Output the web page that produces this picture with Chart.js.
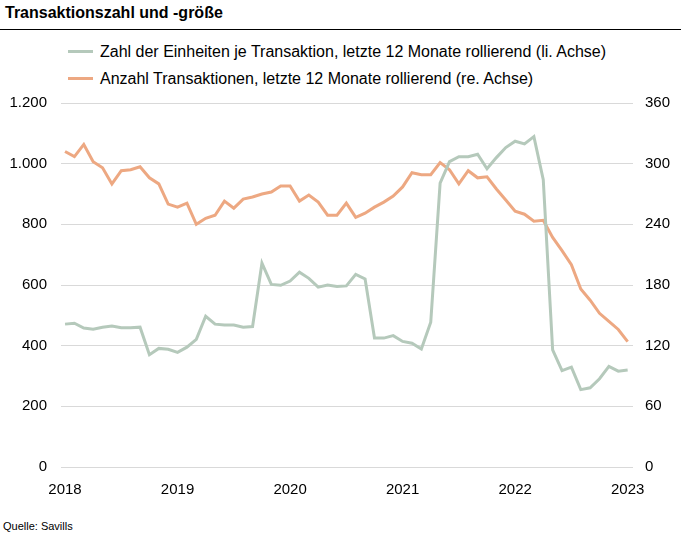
<!DOCTYPE html>
<html>
<head>
<meta charset="utf-8">
<script src="https://cdn.jsdelivr.net/npm/chart.js@4/dist/chart.umd.min.js"></script>
<style>
  body { margin: 0; width: 681px; height: 536px; background: #fff; position: relative; overflow: hidden;
         font-family: "Liberation Sans", Arial, sans-serif; color: #000; }
  #title { position: absolute; left: 5px; top: 4px; font-size: 16px; font-weight: bold; }
  #rule { position: absolute; left: 0; top: 29px; width: 681px; height: 1px; background: #000; }
  .leg { position: absolute; left: 68px; font-size: 16px; line-height: 18px; white-space: nowrap; }
  .leg span { display: inline-block; width: 25px; height: 3px; vertical-align: middle; margin-right: 7px; position: relative; top: -1px; }
  #source { position: absolute; left: 3px; top: 520px; font-size: 11px; }
  #wrap { position: absolute; left: 0; top: 80px; width: 681px; height: 417px; }
</style>
</head>
<body>
<div id="title">Transaktionszahl und -größe</div>
<div id="rule"></div>
<div class="leg" style="top:43px"><span style="background:#b5c9bb"></span>Zahl der Einheiten je Transaktion, letzte 12 Monate rollierend (li. Achse)</div>
<div class="leg" style="top:70px"><span style="background:#eda882"></span>Anzahl Transaktionen, letzte 12 Monate rollierend (re. Achse)</div>
<div id="wrap"><canvas id="chart" width="681" height="417"></canvas></div>
<div id="source">Quelle: Savills</div>
<script>
// Monatswerte Jan 2018 bis Jan 2023
var yearLabels = ["2018", "2019", "2020", "2021", "2022", "2023"];
var unitsPerDeal = [471, 474, 458, 454, 461, 465, 459, 459, 461, 370, 391, 388,
                    378, 395, 421, 497, 471, 468, 468, 461, 463, 672, 602, 599,
                    613, 642, 622, 593, 600, 595, 597, 635, 620, 425, 425, 433,
                    414, 408, 389, 477, 936, 1007, 1023, 1023, 1031, 983, 1020, 1053,
                    1074, 1065, 1089, 947, 386, 318, 329, 255, 261, 291, 332, 316,
                    320];
var dealCount = [312, 307, 319, 302, 296, 280, 293, 294, 297, 286, 280, 260,
                 257, 261, 240, 246, 249, 263, 256, 265, 267, 270, 272, 278,
                 278, 263, 269, 262, 249, 249, 261, 247, 251, 257, 262, 268,
                 277, 291, 289, 289, 301, 294, 280, 293, 286, 287, 275, 264,
                 253, 250, 243, 244, 227, 214, 200, 176, 165, 152, 144, 136,
                 124];
var leftTicks = [0, 200, 400, 600, 800, 1000, 1200];
var rightTicks = [0, 60, 120, 180, 240, 300, 360];

function toPoints(arr) {
    return arr.map(function (v, i) { return { x: i, y: v }; });
}

function fmtDe(v) {
    var s = String(v);
    return s.length > 3 ? s.slice(0, s.length - 3) + "." + s.slice(-3) : s;
}

Chart.defaults.font.family = '"Liberation Sans", Arial, sans-serif';
Chart.defaults.font.size = 15;
Chart.defaults.color = "#000";

var ctx = document.getElementById("chart");
var myChart = new Chart(ctx, {
    type: "line",
    data: {
        datasets: [{
            label: "Zahl der Einheiten je Transaktion, letzte 12 Monate rollierend (li. Achse)",
            data: toPoints(unitsPerDeal),
            borderColor: "#b5c9bb",
            borderWidth: 3,
            pointRadius: 0,
            yAxisID: "yL"
        }, {
            label: "Anzahl Transaktionen, letzte 12 Monate rollierend (re. Achse)",
            data: toPoints(dealCount),
            borderColor: "#eda882",
            borderWidth: 3,
            pointRadius: 0,
            yAxisID: "yR"
        }]
    },
    options: {
        responsive: false,
        animation: false,
        layout: { padding: { top: 11, left: 0, right: 0, bottom: 0 } },
        plugins: {
            legend: { display: false },
            tooltip: { enabled: false }
        },
        scales: {
            x: {
                type: "linear",
                min: -0.43,
                max: 60.57,
                afterBuildTicks: function (axis) {
                    axis.ticks = yearLabels.map(function (y, i) { return { value: i * 12 }; });
                },
                ticks: {
                    autoSkip: false,
                    maxRotation: 0,
                    padding: 6,
                    callback: function (v) { return yearLabels[Math.round(v / 12)]; }
                },
                grid: { display: false },
                border: { display: false },
                afterFit: function (axis) { axis.height = 30; }
            },
            yL: {
                position: "left",
                min: 0,
                max: 1200,
                afterBuildTicks: function (axis) {
                    axis.ticks = leftTicks.map(function (v) { return { value: v }; });
                },
                ticks: { padding: 14, callback: function (v) { return fmtDe(v); } },
                grid: { color: "#d9d9d9", drawTicks: false, lineWidth: 1 },
                border: { display: false },
                afterFit: function (axis) { axis.width = 61; }
            },
            yR: {
                position: "right",
                min: 0,
                max: 360,
                afterBuildTicks: function (axis) {
                    axis.ticks = rightTicks.map(function (v) { return { value: v }; });
                },
                ticks: { padding: 12 },
                grid: { display: false, drawTicks: false },
                border: { display: false },
                afterFit: function (axis) { axis.width = 48; }
            }
        }
    }
});
</script>
</body>
</html>
